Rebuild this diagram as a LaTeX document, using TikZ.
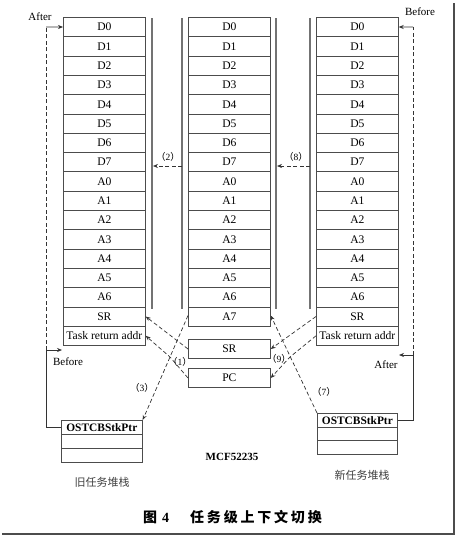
\documentclass[tikz,border=0pt]{standalone}
\usepackage{fontspec}
\setmainfont{Liberation Serif}
\newfontfamily\cjk{Noto Sans CJK SC}
\usetikzlibrary{arrows.meta}
\definecolor{boxc}{gray}{0.3}
\definecolor{linec}{gray}{0.45}
\begin{document}
\begin{tikzpicture}[x=1pt,y=-1pt,
  cell/.style={draw=boxc, line width=0.7pt, minimum width=82pt, minimum height=19.3pt,
    inner sep=0pt, anchor=north west, font=\fontsize{11.6}{12}\selectfont},
  ocell/.style={draw=boxc, line width=0.7pt, minimum width=81pt, minimum height=14pt,
    inner sep=0pt, anchor=north west, font=\fontsize{11.4}{12}\selectfont\bfseries},
  vline/.style={draw=linec, line width=1.2pt},
  dar/.style={draw=black!80, line width=0.7pt, dash pattern=on 4pt off 2.5pt,
    -{Stealth[length=5pt,width=4pt]}},
  sar/.style={draw=black!80, line width=0.7pt, -{Stealth[length=5pt,width=4pt]}},
  sline/.style={draw=black!80, line width=0.7pt},
  dline/.style={draw=black!80, line width=0.7pt, dash pattern=on 4pt off 2.5pt},
  lab/.style={font=\fontsize{11}{12}\selectfont, inner sep=0pt},
  num/.style={font=\fontsize{9.5}{10}\selectfont, inner sep=0pt},
  cjklab/.style={font=\fontsize{11}{12}\selectfont\cjk, text=black!75, inner sep=0pt}]
\useasboundingbox (0,0) rectangle (456,538);
% frame shadow
\draw[line width=2pt, black!70] (2,534) -- (454,534) -- (454,3);
% stacks
\foreach \t [count=\i from 0] in {D0,D1,D2,D3,D4,D5,D6,D7,A0,A1,A2,A3,A4,A5,A6,SR,Task return addr}
  \node[cell] (L\i) at (63,{17+\i*19.3}) {\t};
\foreach \t [count=\i from 0] in {D0,D1,D2,D3,D4,D5,D6,D7,A0,A1,A2,A3,A4,A5,A6,A7}
  \node[cell] (M\i) at (188,{17+\i*19.3}) {\t};
\foreach \t [count=\i from 0] in {D0,D1,D2,D3,D4,D5,D6,D7,A0,A1,A2,A3,A4,A5,A6,SR,Task return addr}
  \node[cell] (R\i) at (316,{17+\i*19.3}) {\t};
\node[cell] (SR) at (188,339) {SR};
\node[cell] (PC) at (188,368) {PC};
% OSTCB boxes
\node[ocell] (LO) at (61,420) {OSTCBStkPtr};
\node[ocell] (LO1) at (61,434) {};
\node[ocell] (LO2) at (61,448) {};
\node[ocell, minimum width=80pt, minimum height=13.5pt] (RO) at (317,413) {OSTCBStkPtr};
\node[ocell, minimum width=80pt, minimum height=13.5pt] (RO1) at (317,426.5) {};
\node[ocell, minimum width=80pt, minimum height=13.5pt] (RO2) at (317,440) {};
% vertical bus lines
\coordinate (v1t) at (152,18); \coordinate (v1b) at (152,309);
\coordinate (v2t) at (182,18); \coordinate (v2b) at (182,309);
\coordinate (v3t) at (276,18); \coordinate (v3b) at (276,309);
\coordinate (v4t) at (310,18); \coordinate (v4b) at (310,309);
\draw[vline] (v1t) -- (v1b);
\draw[vline] (v2t) -- (v2b);
\draw[vline] (v3t) -- (v3b);
\draw[vline] (v4t) -- (v4b);
% (2) and (8)
\coordinate (p2s) at (182,166); \coordinate (p2e) at (153,166);
\coordinate (p8s) at (310,166); \coordinate (p8e) at (277,166);
\draw[dar] (p2s) -- (p2e);
\draw[dar] (p8s) -- (p8e);
\node[num] (n2) at (168,157) {{\cjk（}2{\cjk）}};
\node[num] (n8) at (296,157) {{\cjk（}8{\cjk）}};
% left After / Before
\coordinate (lk) at (46,350);
\coordinate (lbe) at (62,350);
\draw[dline] (lk) -- (46,27);
\draw[sar] (46,27) -- (L0.west);
\draw[sline] (LO.west) -| (lk);
\draw[sar] (lk) -- (lbe);
\node[lab] (after1) at (40,17) {After};
\node[lab] (before1) at (68,362) {Before};
% right Before / After
\coordinate (rk) at (413,355);
\coordinate (rae) at (399,355);
\draw[dline] (rk) -- (413,27);
\draw[sar] (413,27) -- (R0.east);
\draw[sline] (RO.east) -| (rk);
\draw[sar] (rk) -- (rae);
\node[lab] (before2) at (420,12) {Before};
\node[lab] (after2) at (386,365) {After};
% (1)
\draw[dar] (SR.west) -- (L15.east);
\draw[dar] (PC.west) -- (170,357) -- (L16.east);
\node[num] (n1) at (180,362) {{\cjk（}1{\cjk）}};
% (3)
\draw[dar] ([yshift=1pt]M15.west) -- (LO.north east);
\node[num] (n3) at (142,388) {{\cjk（}3{\cjk）}};
% (9)
\draw[dar] (R15.west) -- (SR.east);
\draw[dar] (R16.west) -- (290,357) -- (PC.east);
\node[num] (n9) at (279,359) {{\cjk（}9{\cjk）}};
% (7)
\draw[dar] (RO.north west) -- ([yshift=1pt]M15.east);
\node[num] (n7) at (324,392) {{\cjk（}7{\cjk）}};
% labels
\node[font=\fontsize{11}{12}\selectfont\bfseries, inner sep=0pt] (mcf) at (232,457) {MCF52235};
\node[cjklab] (old) at (102,482) {旧任务堆栈};
\node[cjklab] (new) at (362,475) {新任务堆栈};
\node[font=\fontsize{14}{15}\selectfont, inner sep=0pt] (cap1) at (156,517) {{\cjk\bfseries 图}\hspace{5pt}\textbf{4}};
\node[font=\fontsize{14}{15}\selectfont\cjk\bfseries\addfontfeature{LetterSpace=20}, inner sep=0pt] (cap2) at (256,517) {任务级上下文切换};
\end{tikzpicture}
\end{document}
